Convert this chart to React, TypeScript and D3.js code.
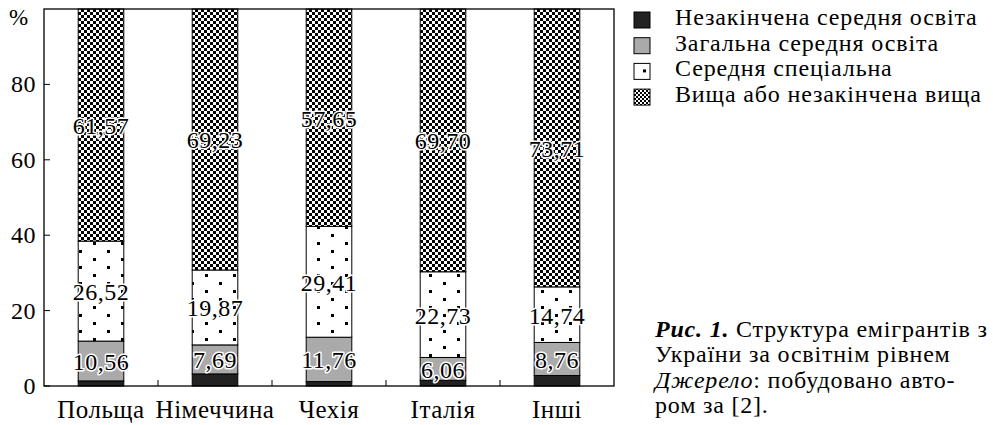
import React from "react";
import * as d3 from "d3";

const countries = ["Польща", "Німеччина", "Чехія", "Італія", "Інші"];
const seriesNames = [
  "Незакінчена середня освіта",
  "Загальна середня освіта",
  "Середня спеціальна",
  "Вища або незакінчена вища",
];
// values per series, one per country (bottom series is the rest to 100)
const incomplete = [1.35, 3.21, 1.18, 1.51, 2.79];
const general = [10.56, 7.69, 11.76, 6.06, 8.76];
const special = [26.52, 19.87, 29.41, 22.73, 14.74];
const higher = [61.57, 69.23, 57.65, 69.7, 73.71];
const yTicks = [0, 20, 40, 60, 80];

const FONT = "Liberation Serif";
const left = 44, right = 614, top = 9, bottom = 386;

const x = d3
  .scaleBand()
  .domain(countries)
  .range([left, right])
  .paddingInner(0.6)
  .paddingOuter(0.3);
const y = d3.scaleLinear().domain([0, 100]).range([bottom, top]);

const table = countries.map((c, i) => ({
  country: c,
  s0: incomplete[i],
  s1: general[i],
  s2: special[i],
  s3: higher[i],
}));
const stack = d3.stack<any>().keys(["s0", "s1", "s2", "s3"])(table);

const fills = ["#222", "#aaa", "url(#dots)", "url(#checker)"];
const legendFills = ["#222", "#aaa", "#fff", "url(#checkSmall)"];

const fmt = (v: number) => v.toFixed(2).replace(".", ",");
// Minion-like widths: a bit of letter spacing on top of Liberation Serif
const font = (size: number, spacing = 0) => ({
  fontFamily: FONT,
  fontSize: size,
  letterSpacing: spacing,
});

const App = () => {
  return (
    <svg
      width={993}
      height={425}
      style={{ position: "absolute", left: 0, top: 0, background: "#fff" }}
    >
      <defs>
        <pattern id="checker" patternUnits="userSpaceOnUse" width={6} height={6}>
          <rect width={6} height={6} fill="#fff" />
          <rect width={3} height={3} fill="#000" />
          <rect x={3} y={3} width={3} height={3} fill="#000" />
        </pattern>
        <pattern id="checkSmall" patternUnits="userSpaceOnUse" width={4} height={4}>
          <rect width={4} height={4} fill="#fff" />
          <rect width={2} height={2} fill="#000" />
          <rect x={2} y={2} width={2} height={2} fill="#000" />
        </pattern>
        <pattern id="dots" patternUnits="userSpaceOnUse" width={28} height={16}>
          <rect width={28} height={16} fill="#fff" />
          <rect x={9} y={2} width={3} height={3} fill="#000" />
          <rect x={23} y={10} width={3} height={3} fill="#000" />
        </pattern>
      </defs>

      {/* bars */}
      {stack.map((layer, li) => (
        <g key={li}>
          {layer.map((d: any) => (
            <rect
              key={d.data.country}
              x={x(d.data.country)}
              y={y(d[1])}
              width={x.bandwidth()}
              height={y(d[0]) - y(d[1])}
              fill={fills[li]}
              stroke="#000"
              strokeWidth={1}
            />
          ))}
        </g>
      ))}

      {/* frame */}
      <rect
        x={left}
        y={top}
        width={right - left}
        height={bottom - top}
        fill="none"
        stroke="#000"
        strokeWidth={1.3}
      />

      {/* y axis */}
      {yTicks.map((t) => (
        <g key={t}>
          <line x1={left} x2={left + 6} y1={y(t)} y2={y(t)} stroke="#000" />
          <text x={36} y={y(t) + 8} textAnchor="end" style={font(24, 0.5)}>
            {t}
          </text>
        </g>
      ))}
      <text x={9} y={25} style={font(23)}>
        %
      </text>

      {/* x axis */}
      {countries.slice(1).map((c) => {
        const tx = (x(c) as number) - x.step() * 0.3;
        return <line key={c} x1={tx} x2={tx} y1={bottom} y2={bottom - 6} stroke="#000" />;
      })}
      {countries.map((c) => (
        <text
          key={c}
          x={(x(c) as number) + x.bandwidth() / 2}
          y={418}
          textAnchor="middle"
          style={font(25, 0.5)}
        >
          {c}
        </text>
      ))}

      {/* value labels */}
      {stack.slice(1).map((layer, li) => (
        <g key={li}>
          {layer.map((d: any) => (
            <text
              key={d.data.country}
              x={(x(d.data.country) as number) + x.bandwidth() / 2}
              y={y((d[0] + d[1]) / 2) + 9}
              textAnchor="middle"
              style={font(24, 0.5)}
              fill="#000"
              stroke="#fff"
              strokeWidth={3}
              strokeLinejoin="round"
              paintOrder="stroke"
            >
              {fmt(d[1] - d[0])}
            </text>
          ))}
        </g>
      ))}

      {/* legend */}
      {seriesNames.map((name, i) => {
        const by = 25 + i * 25.7;
        return (
          <g key={name}>
            <rect
              x={634}
              y={by - 13}
              width={16}
              height={16}
              fill={legendFills[i]}
              stroke="#000"
              strokeWidth={1}
            />
            {i === 2 && <rect x={643} y={by - 7} width={3} height={3} fill="#000" />}
            <text x={675} y={by} style={font(24, 0.85)}>
              {name}
            </text>
          </g>
        );
      })}

      {/* caption */}
      <text style={font(24, 0.8)}>
        <tspan x={655} y={337}>
          <tspan style={{ fontWeight: "bold", fontStyle: "italic" }}>Рис. 1.</tspan>
          <tspan> Структура емігрантів з</tspan>
        </tspan>
        <tspan x={655} y={362}>
          України за освітнім рівнем
        </tspan>
        <tspan x={655} y={388}>
          <tspan style={{ fontStyle: "italic" }}>Джерело</tspan>
          <tspan>: побудовано авто-</tspan>
        </tspan>
        <tspan x={655} y={413}>
          ром за [2].
        </tspan>
      </text>
    </svg>
  );
};

export default App;
